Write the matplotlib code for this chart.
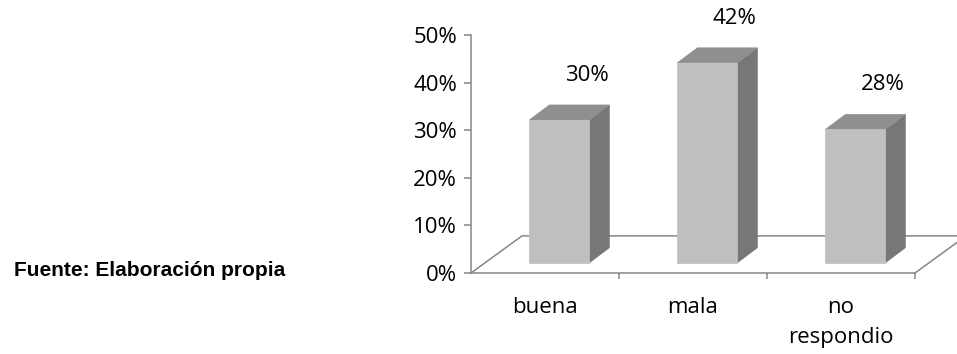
"""
Gráfico de barras 3D (estilo Excel): opinión buena / mala / no respondio.
"""

import matplotlib
matplotlib.use("Agg")
import matplotlib.pyplot as plt
from matplotlib.patches import Polygon

categories = ["buena", "mala", "no\nrespondio"]
values = [30, 42, 28]
y_ticks = [0, 10, 20, 30, 40, 50]
y_tick_labels = ["0%", "10%", "20%", "30%", "40%", "50%"]
source_note = "Fuente: Elaboración propia"

FRONT = "#bfbfbf"
TOP = "#8f8f8f"
SIDE = "#777777"
AXIS = "#868686"

W, H = 957, 354
fig = plt.figure(figsize=(W / 100, H / 100), dpi=100)
plt.rcParams["font.family"] = ["Open Sans", "DejaVu Sans"]

# axes box in pixels: y axis at x=471, floor front edge at y=273, 50% at y=35
ax = fig.add_axes([471 / W, (H - 273) / H, 444 / W, 238 / H])
ax.set_xlim(-0.5, len(categories) - 0.5)
ax.set_ylim(0, 50)

# depth of the floor (in data units) and where the bars sit inside it
floor_dx, floor_dy = 0.345, 7.8
bar_off_x, bar_off_y = 0.097, 2.15
side_dx, side_dy = 0.135, 3.15
bar_w = 0.405

# floor: left diagonal, back edge, right diagonal
x0, x1 = -0.5, len(categories) - 0.5
ax.plot([x0, x0 + floor_dx, x1 + floor_dx, x1], [0, floor_dy, floor_dy, 0],
        color=AXIS, lw=1.1, clip_on=False, zorder=1)

# bars: front, side and top faces
for i, v in enumerate(values):
    left = i + bar_off_x - bar_w / 2
    right = left + bar_w
    base = bar_off_y
    top = base + v
    front = [(left, base), (right, base), (right, top), (left, top)]
    side = [(right, base), (right + side_dx, base + side_dy),
            (right + side_dx, top + side_dy), (right, top)]
    lid = [(left, top), (right, top), (right + side_dx, top + side_dy),
           (left + side_dx, top + side_dy)]
    for pts, col in [(side, SIDE), (lid, TOP), (front, FRONT)]:
        ax.add_patch(Polygon(pts, closed=True, facecolor=col, edgecolor=col,
                             lw=0.5, clip_on=False, zorder=3))
    ax.text(i + 0.28, v + 11.5, f"{v}%", ha="center", va="center",
            fontsize=16, color="black", clip_on=False, zorder=4)

# axes styling
for s in ["top", "right"]:
    ax.spines[s].set_visible(False)
ax.spines["left"].set_color(AXIS)
ax.spines["bottom"].set_color(AXIS)
ax.spines["left"].set_linewidth(1.1)
ax.spines["bottom"].set_linewidth(1.1)

ax.set_yticks(y_ticks)
ax.set_yticklabels(y_tick_labels)
ax.tick_params(axis="y", length=5, width=1.1, color=AXIS, pad=5, labelsize=16)

ax.set_xticks([i + 0.5 for i in range(len(categories))])
ax.set_xticklabels([])
ax.tick_params(axis="x", which="major", length=4, width=1.1, color=AXIS)
ax.set_xticks(range(len(categories)), minor=True)
ax.set_xticklabels(categories, minor=True, linespacing=1.55)
ax.tick_params(axis="x", which="minor", length=0, pad=17.5, labelsize=16)

fig.text(150 / W, (H - 276) / H, source_note, ha="center", va="baseline",
         fontsize=15, fontweight="bold", family=["Liberation Sans", "DejaVu Sans"])

fig.savefig("out.png", dpi=100)
